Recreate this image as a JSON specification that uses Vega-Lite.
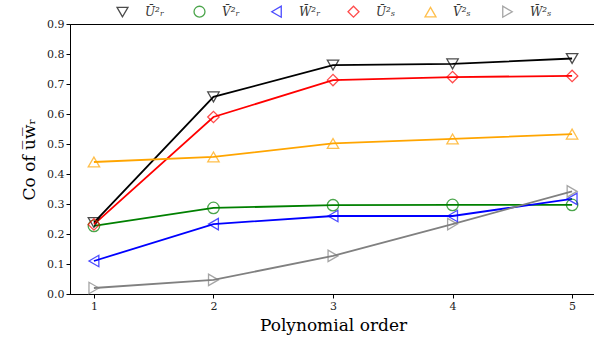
{
  "$schema": "https://vega.github.io/schema/vega-lite/v6.json",
  "width": 526,
  "height": 270,
  "autosize": {"type": "none"},
  "padding": {"left": 70, "top": 24, "right": 0, "bottom": 47},
  "config": {
    "view": {"stroke": "black", "strokeWidth": 1},
    "font": "DejaVu Serif",
    "axis": {"labelFont": "DejaVu Serif", "titleFont": "DejaVu Serif", "labelFontSize": 11, "labelColor": "#222", "domainColor": "black", "tickColor": "black", "tickSize": 4, "grid": false, "titleFontWeight": "normal", "titleColor": "black"},
    "legend": {"orient": "none", "legendX": 46, "legendY": -19, "direction": "horizontal", "columns": 6, "labelFont": "DejaVu Serif", "labelFontSize": 12, "labelFontStyle": "italic", "labelColor": "#333", "symbolSize": 120, "symbolStrokeWidth": 1.3, "labelOffset": 16, "columnPadding": 24, "gridAlign": "all"}
  },
  "data": {"values": [
    {"s": "Ū²ᵣ", "x": 1, "y": 0.238}, {"s": "Ū²ᵣ", "x": 2, "y": 0.657}, {"s": "Ū²ᵣ", "x": 3, "y": 0.763}, {"s": "Ū²ᵣ", "x": 4, "y": 0.767}, {"s": "Ū²ᵣ", "x": 5, "y": 0.785},
    {"s": "V̄²ᵣ", "x": 1, "y": 0.227}, {"s": "V̄²ᵣ", "x": 2, "y": 0.287}, {"s": "V̄²ᵣ", "x": 3, "y": 0.296}, {"s": "V̄²ᵣ", "x": 4, "y": 0.297}, {"s": "V̄²ᵣ", "x": 5, "y": 0.297},
    {"s": "W̄²ᵣ", "x": 1, "y": 0.11}, {"s": "W̄²ᵣ", "x": 2, "y": 0.233}, {"s": "W̄²ᵣ", "x": 3, "y": 0.26}, {"s": "W̄²ᵣ", "x": 4, "y": 0.26}, {"s": "W̄²ᵣ", "x": 5, "y": 0.317},
    {"s": "Ū²ₛ", "x": 1, "y": 0.232}, {"s": "Ū²ₛ", "x": 2, "y": 0.59}, {"s": "Ū²ₛ", "x": 3, "y": 0.713}, {"s": "Ū²ₛ", "x": 4, "y": 0.723}, {"s": "Ū²ₛ", "x": 5, "y": 0.727},
    {"s": "V̄²ₛ", "x": 1, "y": 0.44}, {"s": "V̄²ₛ", "x": 2, "y": 0.457}, {"s": "V̄²ₛ", "x": 3, "y": 0.502}, {"s": "V̄²ₛ", "x": 4, "y": 0.517}, {"s": "V̄²ₛ", "x": 5, "y": 0.533},
    {"s": "W̄²ₛ", "x": 1, "y": 0.02}, {"s": "W̄²ₛ", "x": 2, "y": 0.047}, {"s": "W̄²ₛ", "x": 3, "y": 0.127}, {"s": "W̄²ₛ", "x": 4, "y": 0.233}, {"s": "W̄²ₛ", "x": 5, "y": 0.342}
  ]},
  "encoding": {
    "x": {"field": "x", "type": "quantitative", "scale": {"domain": [0.8, 5.2], "nice": false, "zero": false},
      "axis": {"values": [1, 2, 3, 4, 5], "format": "d", "title": "Polynomial order", "titleFontSize": 17, "titlePadding": 6}},
    "y": {"field": "y", "type": "quantitative", "scale": {"domain": [0, 0.9], "nice": false},
      "axis": {"values": [0, 0.1, 0.2, 0.3, 0.4, 0.5, 0.6, 0.7, 0.8, 0.9], "format": ".1f", "title": "Co of u̅w̅ᵣ", "titleFontSize": 17, "titlePadding": 8}},
    "color": {"field": "s", "type": "nominal", "title": null,
      "scale": {"domain": ["Ū²ᵣ", "V̄²ᵣ", "W̄²ᵣ", "Ū²ₛ", "V̄²ₛ", "W̄²ₛ"], "range": ["#000000", "#008000", "#0000ff", "#ff0000", "#ffa500", "#808080"]}}
  },
  "layer": [
    {"mark": {"type": "line", "strokeWidth": 1.8}},
    {"mark": {"type": "point", "filled": false, "size": 130, "strokeWidth": 1.3},
      "encoding": {
        "shape": {"field": "s", "type": "nominal", "title": null,
          "scale": {"domain": ["Ū²ᵣ", "V̄²ᵣ", "W̄²ᵣ", "Ū²ₛ", "V̄²ₛ", "W̄²ₛ"], "range": ["triangle-down", "circle", "triangle-left", "diamond", "triangle-up", "triangle-right"]}}
      }}
  ]
}
